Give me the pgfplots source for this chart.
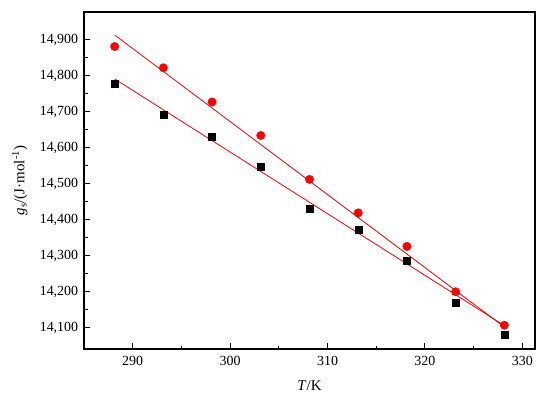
\documentclass[border=0pt]{standalone}
\usepackage{pgfplots}
\pgfplotsset{compat=1.18}
\usepackage{fontspec}
\setmainfont{Liberation Serif}
\begin{document}
\fontsize{14}{16}\selectfont
\begin{tikzpicture}[x=1bp,y=1bp]
\path[use as bounding box] (0,0) rectangle (550,400);
\begin{axis}[
  at={(84bp,51bp)}, anchor=south west,
  scale only axis, width=451bp, height=337bp,
  xmin=285, xmax=331.3, ymin=14041, ymax=14977,
  xtick={290,300,310,320,330}, minor x tick num=1,
  ytick={14100,14200,14300,14400,14500,14600,14700,14800,14900}, minor y tick num=1,
  tick align=inside, xtick pos=left, ytick pos=left,
  major tick length=6bp, minor tick length=3.5bp,
  every tick/.style={black, line width=0.9bp},
  axis line style={line width=1.1bp},
  /pgf/number format/assume math mode=true,
  /pgf/number format/1000 sep={,},
  scaled ticks=false,
  xticklabel style={font=\fontsize{14}{16}\selectfont, yshift=-2bp},
  yticklabel style={font=\fontsize{14}{16}\selectfont, xshift=-1bp},
  xlabel={\textit{T}/K}, ylabel={\textit{g}\textsubscript{s}/(J·mol\textsuperscript{-1})},
  label style={font=\fontsize{15}{17}\selectfont},
  xlabel style={at={(axis description cs:0.5,-0.11)}, anchor=center},
  ylabel style={at={(axis description cs:-0.142,0.5)}, anchor=center, rotate=0},
  clip=false,
]
\addplot[red, line width=0.8bp] coordinates {(288.15,14913) (328.15,14102)};
\addplot[red, line width=0.8bp] coordinates {(288.15,14791) (328.15,14106)};
\addplot[only marks, mark=*, mark size=4.2bp, red, mark options={fill=red, draw=red}] coordinates {
(288.15,14881) (293.15,14822) (298.15,14727) (303.15,14634) (308.15,14512)
(313.15,14419) (318.15,14326) (323.15,14200) (328.15,14107)};
\addplot[only marks, mark=square*, mark size=3.5bp, black, mark options={fill=black}] coordinates {
(288.15,14779) (293.15,14691) (298.15,14632) (303.15,14547) (308.15,14432)
(313.15,14373) (318.15,14287) (323.15,14170) (328.15,14082)};
\end{axis}
\end{tikzpicture}
\end{document}
